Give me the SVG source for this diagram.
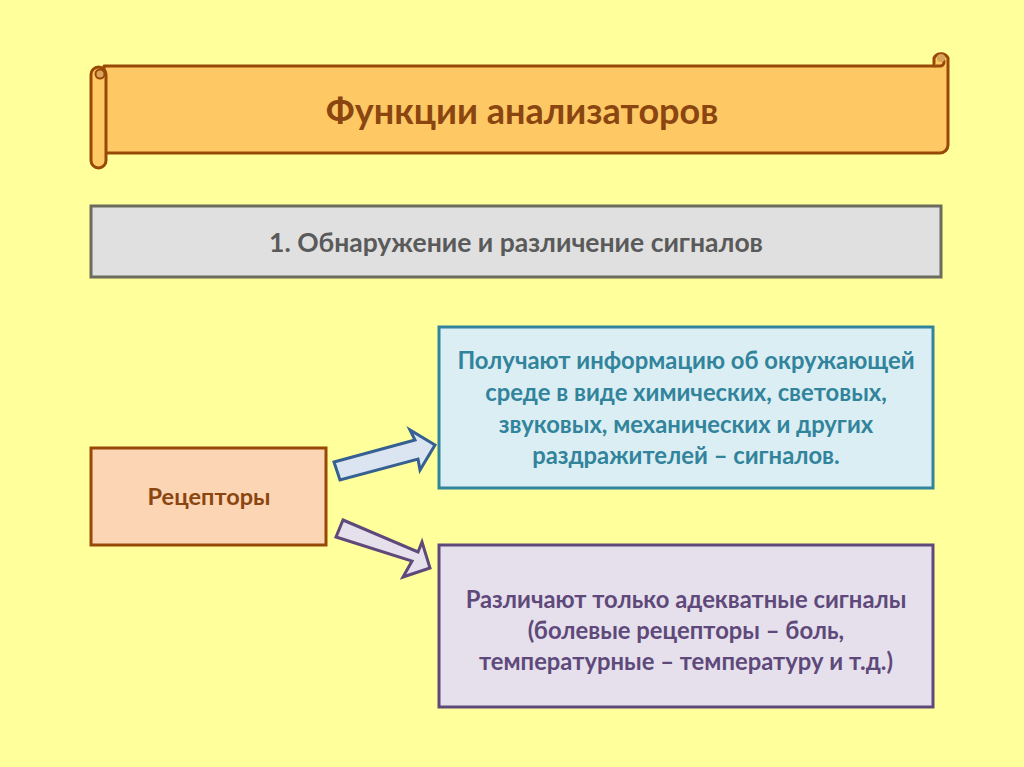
<svg xmlns="http://www.w3.org/2000/svg" width="1024" height="767" viewBox="0 0 1024 767">
<style>
text{font-family:Lato,"Open Sans","Liberation Sans",sans-serif;font-weight:bold;text-anchor:middle}
.scroll{fill:#fec965;stroke:#984807;stroke-width:3;stroke-linejoin:round}
.t-title{font-size:36px;fill:#8a4510}
.t-gray{font-size:26.5px;fill:#5a5a5a}
.t-rec{font-size:23.5px;fill:#8a4510}
.t-blue{font-size:23.8px;fill:#31849b}
.t-purple{font-size:23.8px;fill:#5f497a}
</style>
<rect width="1024" height="767" fill="#ffff9c"/>
<g id="title">
  <path class="scroll" d="M104,66 H934 V58 a8,8 0 0 1 14,0 V145 a8,8 0 0 1 -8,8 H104 Z"/>
  <path class="scroll" d="M934,66 H940 a4,4 0 0 0 0,-8" fill="none"/>
  <circle cx="941" cy="58" r="4" fill="#d9a55a" stroke="none"/>
  <rect class="scroll" x="91" y="67" width="15" height="101" rx="7.5"/>
  <circle cx="100" cy="74" r="4.5" fill="#d9a55a" stroke="#984807" stroke-width="2"/>
  <text class="t-title" x="522" y="124">Функции анализаторов</text>
</g>
<g id="detect">
  <rect x="91" y="206" width="850" height="71" fill="#e0e0e0" stroke="#6b6b5e" stroke-width="3"/>
  <text class="t-gray" x="516" y="252">1. Обнаружение и различение сигналов</text>
</g>
<g id="receptors">
  <rect x="91" y="448" width="235" height="97" fill="#fcd5b4" stroke="#984807" stroke-width="3"/>
  <text class="t-rec" x="209" y="505">Рецепторы</text>
</g>
<g id="info">
  <rect x="439" y="327" width="494" height="161" fill="#dbeef4" stroke="#31849b" stroke-width="3"/>
  <text class="t-blue" x="686" y="369">Получают информацию об окружающей</text>
  <text class="t-blue" x="686" y="401">среде в виде химических, световых,</text>
  <text class="t-blue" x="686" y="433">звуковых, механических и других</text>
  <text class="t-blue" x="686" y="464">раздражителей – сигналов.</text>
</g>
<g id="adequate">
  <rect x="439" y="545" width="494" height="162" fill="#e5e0ec" stroke="#5f497a" stroke-width="3"/>
  <text class="t-purple" x="686" y="608">Различают только адекватные сигналы</text>
  <text class="t-purple" x="686" y="639">(болевые рецепторы – боль,</text>
  <text class="t-purple" x="686" y="670">температурные – температуру и т.д.)</text>
</g>
<g id="connectors" stroke-width="3" stroke-linejoin="miter">
  <polygon points="334,462 415,440 410,430 435,445 420,470 418,459 340,480" fill="#dbe5f1" stroke="#366092"/>
  <polygon points="343,520 418,552 422,542 430,568 403,577 412,561 336,537" fill="#e5e0ec" stroke="#5f497a"/>
</g>
</svg>
